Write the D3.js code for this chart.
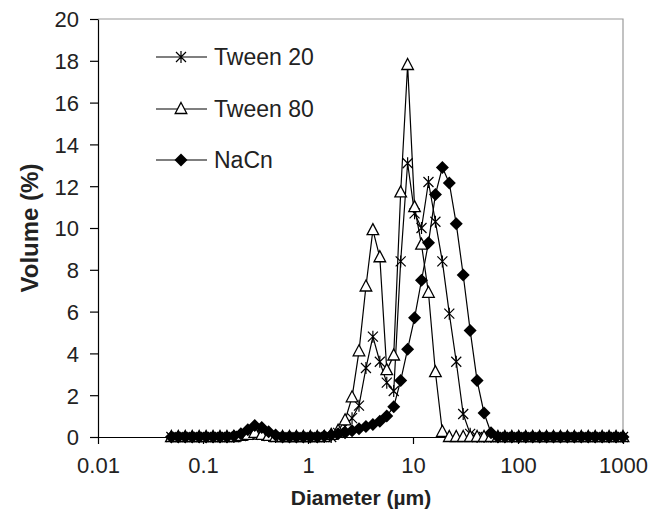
<!DOCTYPE html>
<html><head><meta charset="utf-8">
<script src="https://cdn.jsdelivr.net/npm/d3@7/dist/d3.min.js"></script>
<style>body{margin:0;background:#fff}svg{display:block}text{font-family:Arial,"Liberation Sans",sans-serif}</style>
</head><body><svg id="c" width="654" height="524"></svg>
<script>
const diameters = [0.0500,0.0582,0.0678,0.0790,0.0920,0.1071,0.1247,0.1452,0.1692,0.1970,
0.2295,0.2673,0.3112,0.3625,0.4220,0.4915,0.5725,0.6666,0.7762,0.9041,
1.053,1.226,1.428,1.663,1.936,2.255,2.627,3.059,3.563,4.149,
4.831,5.627,6.553,7.632,8.887,10.35,12.05,14.04,16.35,19.04,
22.17,25.82,30.07,35.02,40.78,47.49,55.31,64.42,75.02,87.37,
101.7,118.5,138.0,160.7,187.1,217.9,253.8,295.6,344.2,400.9,
466.9,543.7,633.2,737.5,858.9,1000];
const tween20 = [0,0,0,0,0,0,0,0,0,0,
0.05,0.1,0.15,0.1,0.05,0,0,0,0,0,
0,0,0,0,0.2,0.5,0.9,1.5,3.3,4.8,
3.6,2.6,2.2,8.4,13.1,10.7,10.0,12.2,10.3,8.4,
5.9,3.6,1.1,0.15,0,0,0,0,0,0,
0,0,0,0,0,0,0,0,0,0,
0,0,0,0,0,0];
const tween80 = [0,0,0,0,0,0,0,0,0,0,
0.05,0.1,0.2,0.1,0.05,0,0,0,0,0,
0,0,0,0.1,0.3,0.8,1.9,4.1,7.2,9.9,
8.6,3.2,3.9,11.7,17.8,11.0,9.2,6.9,3.1,0.25,
0,0,0,0,0,0,0,0,0,0,
0,0,0,0,0,0,0,0,0,0,
0,0,0,0,0,0];
const nacn = [0,0,0,0,0,0,0,0,0,0.05,
0.15,0.35,0.55,0.45,0.25,0.1,0,0,0,0,
0,0,0.05,0.1,0.15,0.2,0.3,0.4,0.5,0.6,
0.75,1.0,1.45,2.7,4.2,5.7,7.5,9.3,11.6,12.9,
12.15,10.2,7.75,5.1,2.7,1.15,0.2,0,0,0,
0,0,0,0,0,0,0,0,0,0,
0,0,0,0,0,0];
const seriesNames = ["Tween 20","Tween 80","NaCn"];
const xTicks = [0.01,0.1,1,10,100,1000];
const xTickLabels = ["0.01","0.1","1","10","100","1000"];
const yTicks = [0,2,4,6,8,10,12,14,16,18,20];

const L=98,R=623,T=19,B=437;
const svg=d3.select("#c");
const x=d3.scaleLog().domain([0.01,1000]).range([L,R]);
const y=d3.scaleLinear().domain([0,20]).range([B,T]);

svg.append("path").attr("d",`M${L},${T}H${R}V${B}`).attr("fill","none").attr("stroke","#9a9a9a").attr("stroke-width",1.2);

const ya=svg.append("g").attr("transform",`translate(${L},0)`)
 .call(d3.axisLeft(y).tickValues(yTicks).tickSize(8).tickSizeOuter(0).tickFormat(d3.format("d")));
ya.select(".domain").attr("stroke","#000").attr("stroke-width",1.2);
ya.selectAll(".tick line").attr("stroke","#000").attr("stroke-width",1.2);
ya.selectAll("text").attr("font-size",22).attr("fill","#222").attr("x",-19).attr("dy","0.36em");

const xa=svg.append("g").attr("transform",`translate(0,${B})`)
 .call(d3.axisBottom(x).tickValues(xTicks).tickSize(7).tickSizeOuter(0).tickFormat((d,i)=>xTickLabels[i]));
xa.select(".domain").attr("stroke","#000").attr("stroke-width",1.2);
xa.selectAll(".tick line").attr("stroke","#000").attr("stroke-width",1.2);
xa.selectAll("text").attr("font-size",22).attr("fill","#222").attr("y",20).attr("dy","0.71em");

svg.append("text").attr("x",361).attr("y",505).attr("text-anchor","middle")
 .attr("font-size",21).attr("font-weight","bold").attr("fill","#222").text("Diameter (µm)");
svg.append("text").attr("transform","translate(38,228) rotate(-90)").attr("text-anchor","middle")
 .attr("font-size",24).attr("font-weight","bold").attr("fill","#222").text("Volume (%)");

function marker(g,type,cx,cy){
  if(type===0){
    const a=5;
    g.append("path").attr("d",`M${cx-a},${cy-a}L${cx+a},${cy+a}M${cx-a},${cy+a}L${cx+a},${cy-a}M${cx},${cy-a-1}V${cy+a+1}`)
     .attr("stroke","#000").attr("stroke-width",1.2).attr("fill","none");
  } else if(type===1){
    g.append("path").attr("d",`M${cx},${cy-6.5}L${cx+5.8},${cy+4.5}L${cx-5.8},${cy+4.5}Z`)
     .attr("stroke","#000").attr("stroke-width",1.3).attr("fill","#fff");
  } else {
    g.append("path").attr("d",`M${cx},${cy-6.5}L${cx+6.5},${cy}L${cx},${cy+6.5}L${cx-6.5},${cy}Z`)
     .attr("fill","#000");
  }
}

const allSeries=[tween20,tween80,nacn];
const line=d3.line().x(d=>x(d[0])).y(d=>y(d[1]));
allSeries.forEach((vals,si)=>{
  const pts=diameters.map((d,i)=>[d,vals[i]]);
  const g=svg.append("g");
  g.append("path").attr("d",line(pts)).attr("fill","none").attr("stroke","#000").attr("stroke-width",1.2);
  pts.forEach(p=>marker(g,si,x(p[0]),y(p[1])));
});

const legY=[57,109,160];
seriesNames.forEach((n,i)=>{
  const g=svg.append("g");
  g.append("line").attr("x1",156).attr("x2",207).attr("y1",legY[i]).attr("y2",legY[i]).attr("stroke","#000").attr("stroke-width",1.2);
  marker(g,i,181,legY[i]);
  g.append("text").attr("x",214).attr("y",legY[i]+8).attr("font-size",23).attr("fill","#222").text(n);
});
</script></body></html>
